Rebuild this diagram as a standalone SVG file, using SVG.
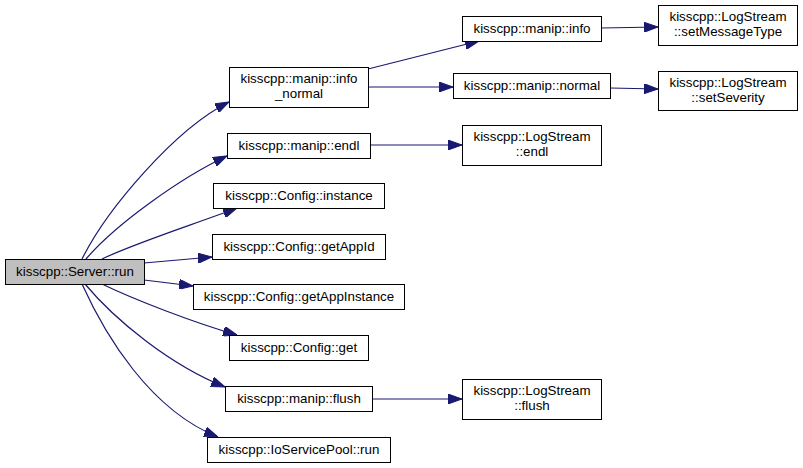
<svg xmlns="http://www.w3.org/2000/svg" width="803" height="468" viewBox="0 0 803 468">
<style>
.n rect{fill:#fff;stroke:#000;stroke-width:1}
.root rect{fill:#bfbfbf}
text{font-family:"Liberation Sans",Arial,sans-serif;font-size:13.33px;fill:#000;text-anchor:middle}
.e path{fill:none;stroke:#191970;stroke-width:1.2}
</style>
<defs>
<marker id="ah" markerUnits="userSpaceOnUse" markerWidth="14" markerHeight="10" viewBox="0 0 14 10" refX="14" refY="5" orient="auto">
<path d="M0,0 L14,5 L0,10 z" fill="#191970" stroke="#191970"/>
</marker>
</defs>
<rect width="803" height="468" fill="#fff"/>
<g class="e" id="connectors">
<path marker-end="url(#ah)" d="M82,259 C107,209 175,129 229,102"/>
<path marker-end="url(#ah)" d="M86,259 C115,225 180,178 227,156"/>
<path marker-end="url(#ah)" d="M102,259 C135,243 195,224 237,208"/>
<path marker-end="url(#ah)" d="M144,263 L212,257"/>
<path marker-end="url(#ah)" d="M144,280 L193,286"/>
<path marker-end="url(#ah)" d="M102,284 C135,300 195,323 237,335"/>
<path marker-end="url(#ah)" d="M85,284 C115,320 170,365 225,387"/>
<path marker-end="url(#ah)" d="M82,284 C105,335 150,410 218,437"/>
<path marker-end="url(#ah)" d="M368,69 L479,41"/>
<path marker-end="url(#ah)" d="M368,87 L453,87"/>
<path marker-end="url(#ah)" d="M601,28 L658,27"/>
<path marker-end="url(#ah)" d="M610,88 L658,89"/>
<path marker-end="url(#ah)" d="M370,145 L462,145"/>
<path marker-end="url(#ah)" d="M372,399 L462,399"/>
</g>
<g class="n root" id="server_run"><rect x="5.5" y="259.5" width="139" height="25"/><text x="75" y="276">kisscpp::Server::run</text></g>
<g class="n" id="info_normal"><rect x="229.5" y="67.5" width="139" height="40"/><text x="299" y="83">kisscpp::manip::info</text><text x="299" y="98">_normal</text></g>
<g class="n" id="manip_endl"><rect x="227.5" y="133.5" width="143" height="25"/><text x="299" y="150">kisscpp::manip::endl</text></g>
<g class="n" id="config_instance"><rect x="213.5" y="183.5" width="171" height="25"/><text x="299" y="200">kisscpp::Config::instance</text></g>
<g class="n" id="config_getappid"><rect x="212.5" y="234.5" width="173" height="25"/><text x="299" y="251">kisscpp::Config::getAppId</text></g>
<g class="n" id="config_getappinstance"><rect x="193.5" y="284.5" width="211" height="25"/><text x="299" y="301">kisscpp::Config::getAppInstance</text></g>
<g class="n" id="config_get"><rect x="229.5" y="335.5" width="139" height="25"/><text x="299" y="352">kisscpp::Config::get</text></g>
<g class="n" id="manip_flush"><rect x="225.5" y="386.5" width="147" height="25"/><text x="299" y="403">kisscpp::manip::flush</text></g>
<g class="n" id="ioservicepool_run"><rect x="207.5" y="437.5" width="183" height="25"/><text x="299" y="454">kisscpp::IoServicePool::run</text></g>
<g class="n" id="manip_info"><rect x="462.5" y="16.5" width="139" height="25"/><text x="532" y="33">kisscpp::manip::info</text></g>
<g class="n" id="manip_normal"><rect x="453.5" y="73.5" width="157" height="25"/><text x="532" y="90">kisscpp::manip::normal</text></g>
<g class="n" id="logstream_setmessagetype"><rect x="658.5" y="5.5" width="139" height="40"/><text x="728" y="21">kisscpp::LogStream</text><text x="728" y="36">::setMessageType</text></g>
<g class="n" id="logstream_setseverity"><rect x="658.5" y="71.5" width="139" height="39"/><text x="728" y="87">kisscpp::LogStream</text><text x="728" y="102">::setSeverity</text></g>
<g class="n" id="logstream_endl"><rect x="462.5" y="125.5" width="139" height="40"/><text x="532" y="141">kisscpp::LogStream</text><text x="532" y="156">::endl</text></g>
<g class="n" id="logstream_flush"><rect x="462.5" y="379.5" width="139" height="40"/><text x="532" y="395">kisscpp::LogStream</text><text x="532" y="410">::flush</text></g>
</svg>
